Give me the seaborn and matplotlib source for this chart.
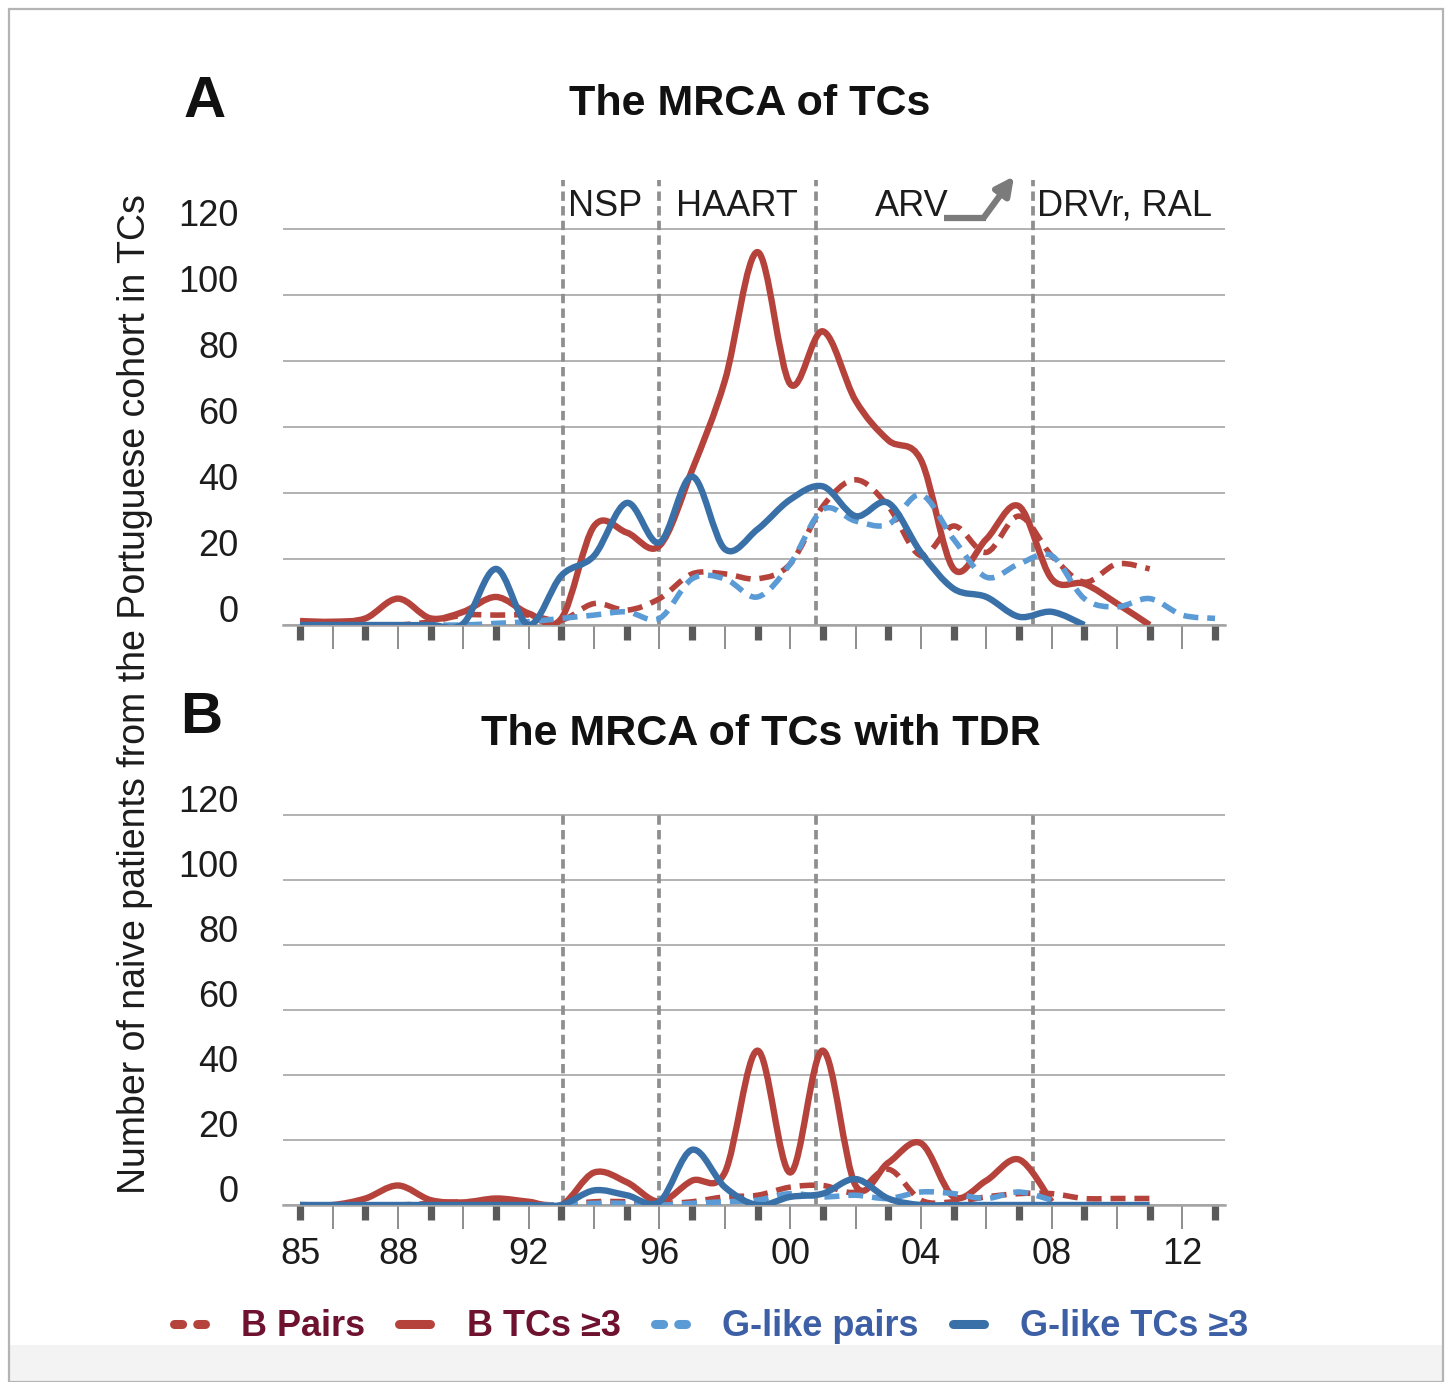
import numpy as np
import pandas as pd
import matplotlib
matplotlib.use("Agg")
import matplotlib.pyplot as plt
import seaborn as sns
from matplotlib.path import Path
from matplotlib.patches import PathPatch, Rectangle
from matplotlib.lines import Line2D
import matplotlib.transforms as mtransforms

# ---------------- data (values per year, starting 1985) ----------------
START_YEAR = 1985
SERIES = ["B Pairs", "B TCs \u22653", "G-like pairs", "G-like TCs \u22653"]

# Panel A: The MRCA of TCs
a_b_pairs = [0, 0, 0, 0, 1, 3, 3, 3, 1.5, 6.5, 4.5, 8, 15.5, 15.5, 14, 18.5,
             36, 44, 36, 21, 30, 22, 33, 21, 13, 18.5, 17]
a_b_tcs = [1.2, 1, 2, 8, 2, 4, 8.5, 3.5, 2, 30, 28, 24, 47, 74, 113, 73,
           89, 68, 56, 50, 17, 26, 36, 14, 12.5, 6.5, 0]
a_g_pairs = [0, 0, 0, 0, 0, 0, 0.5, 1, 2, 3, 4, 2, 14, 14, 8.5, 18.5,
             35, 31.5, 30.5, 39.5, 26, 14.5, 18.5, 21, 8, 5.5, 8, 3, 2]
a_g_tcs = [0, 0, 0, 0, 0, 0.5, 17, 0, 15, 21, 37, 25, 45, 23, 29, 38,
           42, 33, 37, 22, 11, 8.5, 2.5, 4, 0]

# Panel B: The MRCA of TCs with TDR
b_b_pairs = [0, 0, 0, 0, 0.5, 1, 1, 0.5, 0, 1, 1, 0.5, 1, 2.5, 3, 5.5,
             6, 4, 11, 1.5, 1, 2.5, 3.5, 3.5, 2, 2, 2]
b_b_tcs = [0, 0, 2, 6, 1.5, 0.8, 2, 1, 0, 10, 7, 1, 7.5, 10, 47.5, 10,
           47.5, 6, 13, 19, 2.5, 7.5, 14, 1]
b_g_pairs = [0, 0, 0, 0, 0, 0, 0, 0, 0, 0.5, 0.5, 0, 0.5, 1, 1.5, 3.5,
             2.5, 3, 2, 4, 3.5, 2, 4, 1.5]
b_g_tcs = [0, 0, 0, 0, 0, 0, 0, 0, 0, 4.5, 3, 1, 17, 5.5, 0, 2.5,
           3.5, 8, 2, 0, 0, 0, 0, 0, 0, 0, 0]

event_years = [1993.05, 1996.0, 2000.8, 2007.43]
event_labels = ["NSP", "HAART", "ARV", "DRVr, RAL"]
xtick_years = [1985, 1988, 1992, 1996, 2000, 2004, 2008, 2012]
xtick_labels = ["85", "88", "92", "96", "00", "04", "08", "12"]
ytick_values = [0, 20, 40, 60, 80, 100, 120]

# ---------------- style ----------------
RED = "#b5433c"
BLUE = "#3a70a8"
LBLUE = "#5b9bd5"
TXT = "#1c1c1c"
COLORS = dict(zip(SERIES, [RED, RED, LBLUE, BLUE]))
DASHED = dict(zip(SERIES, [True, False, True, False]))

sns.set_theme(style="white")
plt.rcParams["font.family"] = ["Liberation Sans", "DejaVu Sans"]

W, H = 1450, 1382
fig = plt.figure(figsize=(W / 100, H / 100), dpi=100)
fig.patch.set_facecolor("white")


def fy(py):
    return 1 - py / H


# frame & bottom strip
fig.add_artist(Rectangle((10 / W, 0), (1443 - 10) / W, (H - 1345) / H,
                         transform=fig.transFigure, fc="#f3f3f3", ec="none", zorder=-5))
fig.add_artist(Rectangle((9 / W, 0), (1443 - 9) / W, fy(9), transform=fig.transFigure,
                         fill=False, ec="#b4b4b4", lw=1.6, zorder=-4))

X0 = 1985 - 17 / 32.68
X1 = 1985 + (1225 - 300) / 32.68
axA = fig.add_axes([283 / W, fy(625), 942 / W, 121 * 3.3 / H])
axB = fig.add_axes([283 / W, fy(1205), 942 / W, 121 * 3.25 / H])


def smooth_path(xy):
    P = np.vstack([xy[0], xy, xy[-1]])
    verts = [xy[0]]
    codes = [Path.MOVETO]
    for i in range(len(xy) - 1):
        p0, p1, p2, p3 = P[i], P[i + 1], P[i + 2], P[i + 3]
        verts += [p1 + (p2 - p0) / 6.0, p2 - (p3 - p1) / 6.0, p2]
        codes += [Path.CURVE4] * 3
    return Path(verts, codes)


def draw_panel(ax, data, event_top):
    for name, vals in zip(SERIES, data):
        df = pd.DataFrame({"year": START_YEAR + np.arange(len(vals)), "count": vals})
        sns.lineplot(data=df, x="year", y="count", ax=ax, color=COLORS[name],
                     estimator=None, legend=False)
        line = ax.get_lines()[-1]
        xy = line.get_xydata()
        line.set_visible(False)
        if DASHED[name]:
            lw, ls = 4.0, (0, (2.7, 1.6))
        else:
            lw, ls = 4.6, "solid"
        patch = PathPatch(smooth_path(xy), fc="none", ec=COLORS[name], lw=lw,
                          linestyle=ls, capstyle="butt", joinstyle="round", zorder=3)
        clip = Rectangle((0, -1.0), 1, 200, transform=mtransforms.blended_transform_factory(
            ax.transAxes, ax.transData))
        patch.set_clip_path(clip)
        ax.add_patch(patch)

    ax.vlines(event_years, 0, event_top, colors="#8f8f8f", lw=2.7,
              linestyles=[(0, (2.5, 1.4))], clip_on=False, zorder=2)

    ax.set_xlim(X0, X1)
    ax.set_ylim(0, 121)
    ax.set_xlabel("")
    ax.set_ylabel("")
    ax.set_yticks(ytick_values)
    ax.set_yticklabels([str(v) for v in ytick_values])
    ax.yaxis.grid(True, color="#b2b2b2", lw=1.4)
    ax.xaxis.grid(False)
    ax.set_axisbelow(True)
    for s in ["top", "left", "right"]:
        ax.spines[s].set_visible(False)
    ax.spines["bottom"].set_color("#a4a4a4")
    ax.spines["bottom"].set_linewidth(1.8)
    ax.set_xticks(list(range(1985, 2014, 2)))
    ax.set_xticks(list(range(1986, 2013, 2)), minor=True)
    ax.tick_params(axis="x", which="major", direction="out", length=11, width=5.2,
                   color="#5a5a5a", labelbottom=False, bottom=True)
    ax.tick_params(axis="x", which="minor", direction="out", length=17.5, width=1.2,
                   color="#7a7a7a", labelbottom=False, bottom=True)
    ax.tick_params(axis="y", length=0, pad=32, labelsize=26, labelcolor=TXT)
    off = mtransforms.ScaledTranslation(0, 3 / 100, fig.dpi_scale_trans)
    for lab in ax.get_yticklabels():
        lab.set_verticalalignment("baseline")
        lab.set_transform(lab.get_transform() + off)


draw_panel(axA, [a_b_pairs, a_b_tcs, a_g_pairs, a_g_tcs], 134.8)
draw_panel(axB, [b_b_pairs, b_b_tcs, b_g_pairs, b_g_tcs], 121)

# x labels on panel B
sec = axB.secondary_xaxis("bottom")
sec.set_xticks(xtick_years)
sec.set_xticklabels(xtick_labels)
sec.tick_params(length=0, pad=23, labelsize=26, labelcolor=TXT)
sec.spines["bottom"].set_visible(False)

# event annotations on panel A
ytxt = (625 - 216) / 3.3
axA.text(1993.2, ytxt, "NSP", fontsize=26, color=TXT, ha="left", va="baseline")
axA.text(1998.37, ytxt, "HAART", fontsize=26, color=TXT, ha="center", va="baseline")
axA.text(2002.6, ytxt, "ARV", fontsize=26, color=TXT, ha="left", va="baseline")
axA.text(2007.55, ytxt, "DRVr, RAL", fontsize=26, color=TXT, ha="left", va="baseline")
axA.plot([2004.72, 2006.0], [123.4, 123.4], color="#7b7b7b", lw=4.5,
         solid_capstyle="butt", clip_on=False)
axA.annotate("", xy=(2006.85, 136.0), xytext=(2005.92, 123.4),
             arrowprops=dict(arrowstyle="-|>,head_length=0.9,head_width=0.45",
                             lw=4.5, color="#7b7b7b", shrinkA=0, shrinkB=0),
             annotation_clip=False)

# titles and panel letters
fig.text(205 / W, fy(117), "A", fontsize=42, fontweight="bold", ha="center", va="baseline",
         color="#111111")
fig.text(750 / W, fy(115), "The MRCA of TCs", fontsize=31, fontweight="bold",
         ha="center", va="baseline", color="#111111")
fig.text(201 / W, fy(733), "B", fontsize=42, fontweight="bold", ha="center", va="baseline",
         color="#111111")
fig.text(761 / W, fy(745), "The MRCA of TCs with TDR", fontsize=31, fontweight="bold",
         ha="center", va="baseline", color="#111111")

fig.text(135 / W, fy(694), "Number of naive patients from the Portuguese cohort in TCs",
         fontsize=27, rotation=90, ha="center", va="center", color=TXT)

# legend
handles = []
for name in SERIES:
    if DASHED[name]:
        h = Line2D([], [], color=COLORS[name], lw=6.5, linestyle=(0, (0.9, 1.67)),
                   dash_capstyle="round")
    else:
        h = Line2D([], [], color=COLORS[name], lw=6.5, solid_capstyle="round")
    handles.append(h)
leg = fig.legend(handles, SERIES, loc="center", bbox_to_anchor=(711 / W, fy(1327)),
                 ncol=4, frameon=False, prop={"size": 26, "weight": "bold"},
                 handlelength=0.86, handletextpad=1.0, columnspacing=0.95)
for txt, c in zip(leg.get_texts(), ["#6e1230", "#6e1230", "#3d5fa5", "#3d5fa5"]):
    txt.set_color(c)

fig.savefig("out.png", dpi=100)
